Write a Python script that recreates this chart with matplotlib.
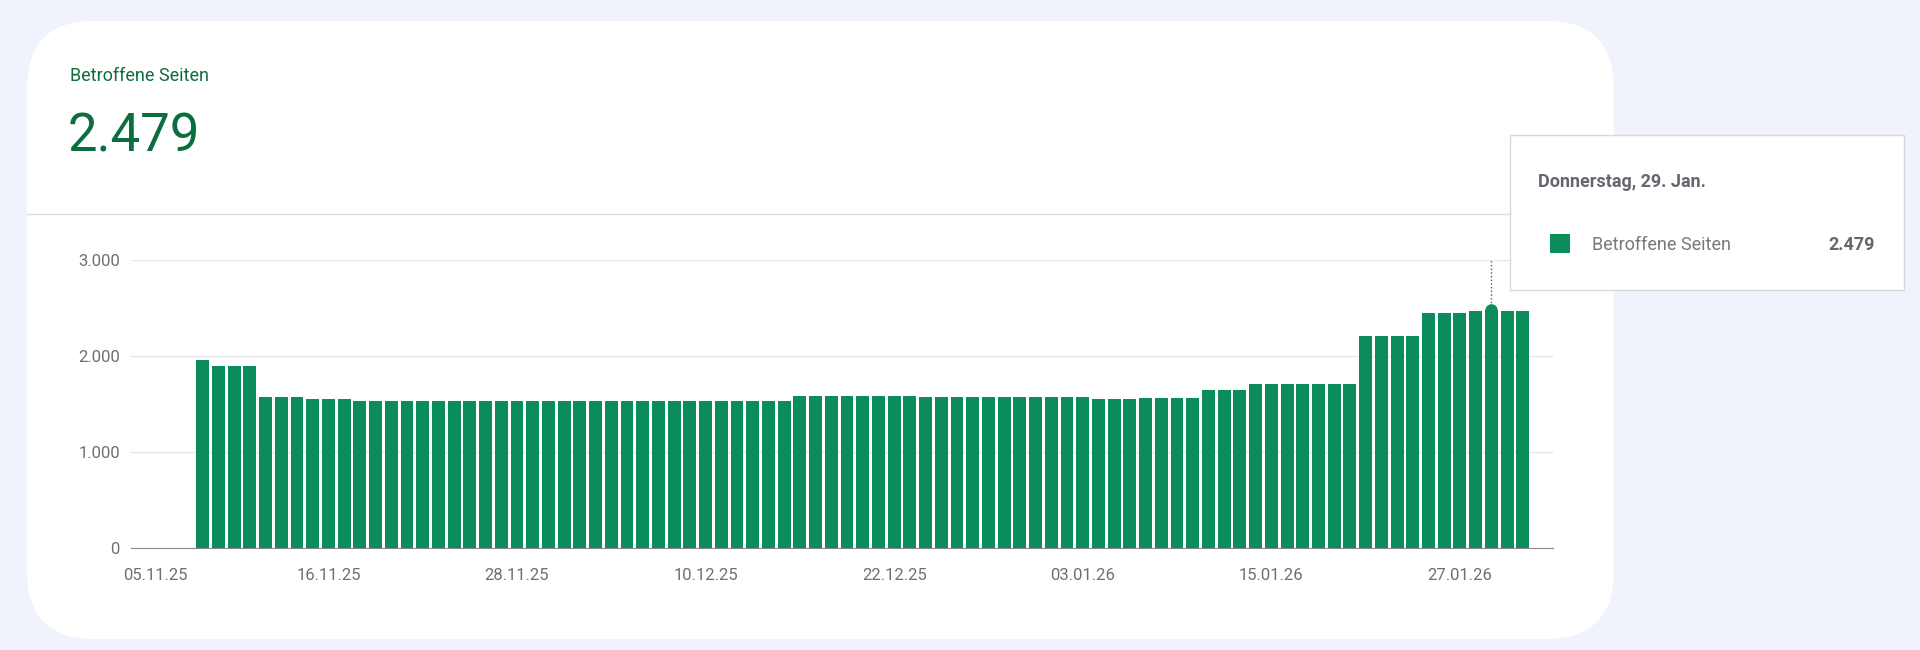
import matplotlib
matplotlib.use("Agg")
import matplotlib.pyplot as plt
from matplotlib.patches import FancyBboxPatch, Rectangle
import numpy as np

plt.rcParams['font.family'] = ['Roboto', 'DejaVu Sans']

title = "Betroffene Seiten"
big_value = "2.479"
tooltip_date = "Donnerstag, 29. Jan."
tooltip_value = "2.479"
tick_labels = ["05.11.25", "16.11.25", "28.11.25", "10.12.25", "22.12.25", "03.01.26", "15.01.26", "27.01.26"]
tick_days = [0, 11, 23, 35, 47, 59, 71, 83]   # days since 05.11.25
first_bar_day = 3  # 08.11.25
values = ([1960] + [1890]*3 + [1575]*3 + [1555]*3 + [1535]*28 + [1585]*8 +
          [1570]*11 + [1550]*3 + [1565]*4 + [1650]*3 + [1710]*7 +
          [2210]*4 + [2440]*3 + [2470, 2479, 2470, 2470])
highlight = 82  # index of 29.01

W, H = 1568.0, 531.0
fig = plt.figure(figsize=(19.2, 6.5), dpi=100)
fig.patch.set_facecolor('#f0f3fb')

def fx(x): return x / W
def fy(y): return 1 - y / H

card = FancyBboxPatch((fx(22), fy(522)), fx(1318) - fx(22), fy(17) - fy(522),
                      boxstyle="round,pad=0,rounding_size=0.035", transform=fig.transFigure,
                      facecolor='white', edgecolor='none', mutation_aspect=3, zorder=-5)
fig.patches.append(card)
fig.add_artist(plt.Line2D([fx(22), fx(1318)], [fy(175), fy(175)], transform=fig.transFigure,
                          color='#dcdce0', lw=1, zorder=-4))
green = '#0b6e3f'
fig.text(fx(57), fy(62), title, color=green, fontsize=13, va='center')
fig.text(fx(55), fy(112), big_value, color=green, fontsize=38, va='center')

ax = fig.add_axes([fx(107), fy(448), fx(1268) - fx(107), fy(212) - fy(448)])
ax.set_zorder(1)
ax.set_facecolor('none')
days = np.arange(len(values)) + first_bar_day
ax.bar(days, values, width=0.82, color='#0a8c5b', zorder=3)
ax.set_ylim(0, 3000)
ax.set_xlim(-1.56, 88.9)
ax.set_yticks([0, 1000, 2000, 3000])
ax.set_yticklabels(["0", "1.000", "2.000", "3.000"])
ax.set_xticks(tick_days)
ax.set_xticklabels(tick_labels)
ax.grid(axis='y', color='#e6e6ea', lw=1, zorder=0)
for s in ['top', 'right', 'left']:
    ax.spines[s].set_visible(False)
ax.spines['bottom'].set_color('#8a8a8a')
ax.tick_params(axis='both', length=0, labelsize=12, colors='#6f6f6f', pad=14)
ax.tick_params(axis='y', pad=8)
hd = days[highlight]
ax.plot([hd, hd], [values[highlight], 3000], ls=':', color='#555555', lw=1, zorder=4)
ax.plot([hd], [values[highlight]], 'o', color='#0a8c5b', ms=8, zorder=5)

# tooltip
tip = Rectangle((fx(1233), fy(237)), fx(1555) - fx(1233), fy(110) - fy(237),
                transform=fig.transFigure, facecolor='white', edgecolor='#d8d8d8', lw=1, zorder=10)
fig.patches.append(tip)
fig.text(fx(1256), fy(149), tooltip_date, fontsize=13, fontweight='bold', color='#666670', va='center', zorder=11)
fig.patches.append(Rectangle((fx(1266), fy(207)), fx(16), fy(191) - fy(207), transform=fig.transFigure,
                             facecolor='#0a8c5b', zorder=11))
fig.text(fx(1300), fy(200), title, fontsize=13, color='#777780', va='center', zorder=11)
fig.text(fx(1531), fy(200), tooltip_value, fontsize=13, fontweight='bold', color='#666670',
         va='center', ha='right', zorder=11)

fig.savefig('out.png', dpi=100, facecolor=fig.get_facecolor())
